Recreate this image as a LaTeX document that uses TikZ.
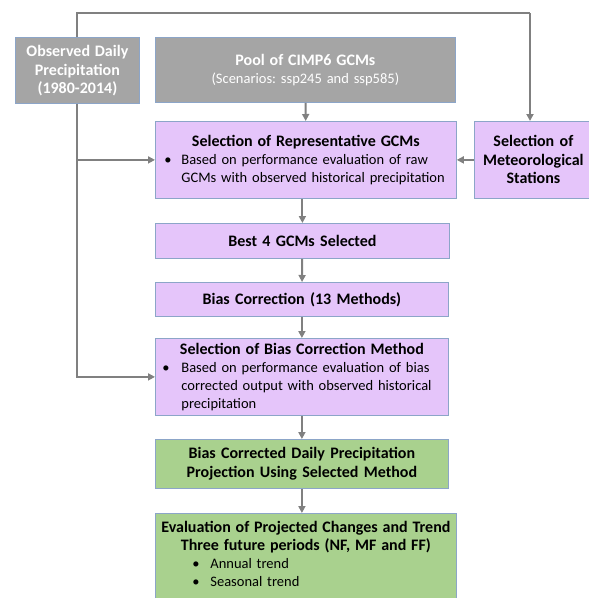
\documentclass[tikz,border=0pt]{standalone}
\usepackage{fontspec}
\setmainfont{Carlito}
\frenchspacing
\usepackage{tikz}
\usetikzlibrary{
    calc,
    positioning,
    arrows.meta
}

\begin{document}
\begin{tikzpicture}[
    x=1pt, y=-1pt,
    font=\fontsize{14.5}{18}\selectfont,
    box/.style={
    	draw=my-edge,
    	line width=0.8pt,
    	inner xsep=0pt, inner ysep=2pt, align=center, anchor=north west
    }, pil/.style={
    	-{Triangle[length=7pt,width=7pt]},
    	draw=my-line,
    	line width=2pt
    }, pil2/.style={
    	draw=my-line,
    	line width=2pt
    }]
    \definecolor{my-gray}{RGB}{165, 165, 165}
    \definecolor{my-purple}{RGB}{229, 197, 250}
    \definecolor{my-green}{RGB}{169, 209, 142}
    \definecolor{my-edge}{RGB}{140, 165, 200}
    \definecolor{my-line}{RGB}{128, 128, 128}

    \useasboundingbox (0,0) rectangle (589,598);

    % inputs
    \node[box, fill=my-gray, text=white, text width=124pt, minimum height=66pt] (observed) at (15,37) {\bfseries\fontsize{16}{18.5}\selectfont Observed Daily\\Precipitation\\(1980-2014)};
    \node[box, fill=my-gray, text=white, text width=300pt, minimum height=65pt] (pool) at (155,37) {{\bfseries\fontsize{16}{18}\selectfont Pool of CIMP6 GCMs}\\(Scenarios: ssp245 and ssp585)};

    \node[box, fill=my-purple, align=left, text width=301pt, minimum height=77pt] (selgcm) at (155,121) {\makebox[\hsize]{\bfseries\fontsize{16}{18}\selectfont Selection of Representative GCMs}\\
    \hspace*{9pt}\makebox[17pt][l]{\textbullet}Based on performance evaluation of raw\\
    \hspace*{26pt}GCMs with observed historical precipitation};
    \node[box, fill=my-purple, text width=118pt, minimum height=77pt, font=\bfseries\fontsize{16}{18.5}\selectfont] (stations) at (474,121) {Selection of\\Meteorological\\Stations};
    \coordinate (topcorner) at (530,13);

    \draw[pil2] (observed) |- (topcorner);
    \draw[pil] (topcorner) -- (topcorner |- stations.north);
    \draw[pil] (pool) -- (selgcm);
    \draw[pil] (observed.south) |- (selgcm.west);
    \draw[pil] (stations) -- (selgcm);


    \node[box, fill=my-purple, text width=294pt, minimum height=35pt, font=\bfseries\fontsize{16}{18}\selectfont] (best) at (155,223) {Best 4 GCMs Selected};
    \node[box, fill=my-purple, text width=293pt, minimum height=34pt, font=\bfseries\fontsize{16}{18}\selectfont] (biascorr) at (155,282) {Bias Correction (13 Methods)};
    \node[box, fill=my-purple, align=left, text width=293pt, minimum height=77pt] (selbias) at (155,338) {\makebox[\hsize]{\bfseries\fontsize{16}{18}\selectfont Selection of Bias Correction Method}\\
    \hspace*{7pt}\makebox[19pt][l]{\textbullet}Based on performance evaluation of bias\\
    \hspace*{26pt}corrected output with observed historical\\
    \hspace*{26pt}precipitation};

    \draw[pil] (selgcm.south -| best.north) -- (best.north);
    \draw[pil] (best) -- (biascorr);
    \draw[pil] (biascorr) -- (selbias);
    \draw[pil] (observed.south) |- (selbias.west);


    \node[box, fill=my-green, text width=293pt, minimum height=49pt, font=\bfseries\fontsize{16}{18.5}\selectfont] (projection) at (155,439) {Bias Corrected Daily Precipitation\\Projection Using Selected Method};
    \node[box, fill=my-green, align=left, text width=301pt, inner ysep=8pt] (evaluation) at (155,513) {\makebox[\hsize]{\bfseries\fontsize{16}{18}\selectfont Evaluation of Projected Changes and Trend}\\
    \makebox[\hsize]{\bfseries\fontsize{16}{18}\selectfont Three future periods (NF, MF and FF)}\\
    \hspace*{37pt}\makebox[18pt][l]{\textbullet}Annual trend\\
    \hspace*{37pt}\makebox[18pt][l]{\textbullet}Seasonal trend\rule[-22pt]{0pt}{1pt}};

    \draw[pil] (selbias) -- (projection);
    \draw[pil] (projection) -- (projection |- evaluation.north);

\end{tikzpicture}
\end{document}
